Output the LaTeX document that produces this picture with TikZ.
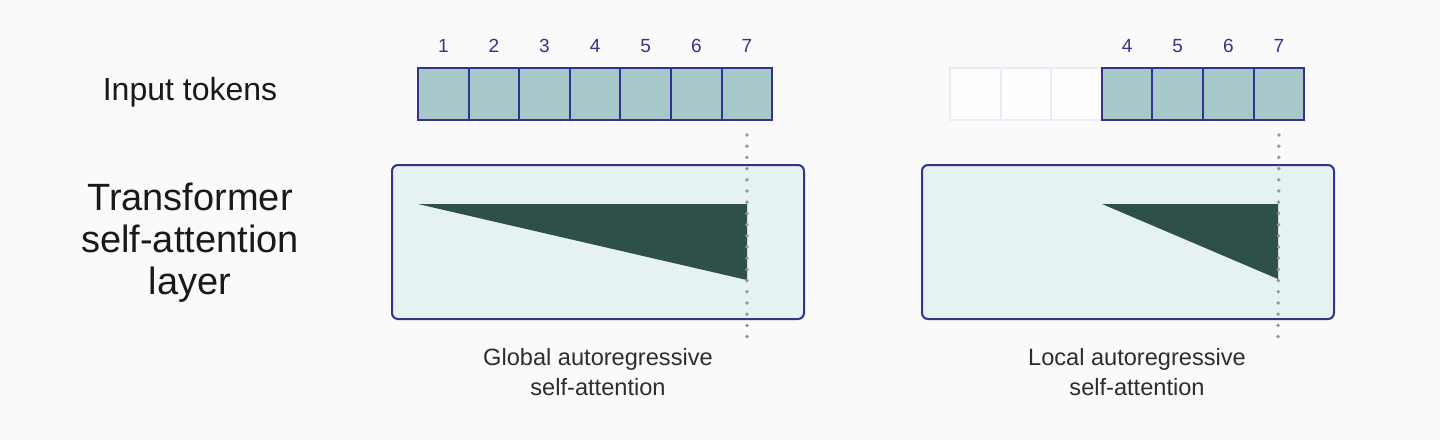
\documentclass[tikz,border=0pt]{standalone}
\usepackage{fontspec}
\setmainfont{Liberation Sans}
\usepackage{xcolor}
\usetikzlibrary{positioning}
\definecolor{bggray}{RGB}{250,250,250}
\definecolor{tokenfill}{RGB}{167,199,200}
\definecolor{navy}{RGB}{51,51,143}
\definecolor{fadeline}{RGB}{236,234,248}
\definecolor{layerfill}{RGB}{230,242,242}
\definecolor{attngreen}{RGB}{46,79,74}
\definecolor{dotgray}{RGB}{150,150,150}
\definecolor{textgray}{RGB}{45,45,45}
\tikzset{
    token/.style={draw=navy, line width=1pt, fill=tokenfill, minimum width=25.3pt,
        minimum height=26pt, inner sep=0pt, outer sep=0pt},
    ghost/.style={token, draw=fadeline, fill=white!60!bggray},
    tokid/.style={font=\fontsize{9.5}{10}\selectfont, text=navy},
    layer/.style={draw=navy, line width=1pt, fill=layerfill, rounded corners=3pt,
        minimum width=206pt, minimum height=77pt},
    guide/.style={dotgray, line width=1.9pt, line cap=round, dash pattern=on 0pt off 5.6pt},
    caption/.style={font=\fontsize{11.8}{15}\selectfont, text=textgray, align=center},
}

\begin{document}
\begin{tikzpicture}[x=0.5pt, y=-0.5pt]
    \fill[bggray] (0,0) rectangle (1440,440);
    \useasboundingbox (0,0) rectangle (1440,440);

    % --- Row labels ---
    \node[font=\fontsize{16}{19}\selectfont, text=black!90] (inlbl) at (190,92) {Input tokens};
    \node[font=\fontsize{19}{21}\selectfont, text=black!90, align=center] (layerlbl) at (190,243)
        {Transformer\\self-attention\\layer};

    % --- Left panel: Global ---
    \begin{scope}[shift={(0,0)}]
        \node[layer] (gl) at (598,242) {};
        \fill[attngreen] (418,204) -- (747,204) -- (747,280) -- cycle;
        \foreach \i in {1,...,7} {
            \node[token] (g\i) at ({418+(\i-0.5)*50.6},94) {};
            \node[tokid] (gn\i) at ({418+(\i-0.5)*50.6},46) {\i};
        }
        \coordinate (gend) at (747,339);
        \draw[guide] ([yshift=-7.5pt]g7.south) -- (gend);
        \node[caption] (gcap) at (598,372) {Global autoregressive\\self-attention};
    \end{scope}

    % --- Right panel: Local ---
    \begin{scope}[shift={(531,0)}]
        \node[layer] (ll) at (597,242) {};
        \foreach \i in {1,...,3} {
            \node[ghost] (l\i) at ({419+(\i-0.5)*50.6},94) {};
        }
        \foreach \i in {4,...,7} {
            \node[token] (l\i) at ({419+(\i-0.5)*50.6},94) {};
            \node[tokid] (ln\i) at ({419+(\i-0.5)*50.6},46) {\i};
        }
        \fill[attngreen] (571,204) -- (747,204) -- (747,279) -- cycle;
        \coordinate (lend) at (747,339);
        \draw[guide] ([yshift=-7.5pt]l7.south) -- (lend);
        \node[caption] (lcap) at (606,372) {Local autoregressive\\self-attention};
    \end{scope}
\end{tikzpicture}
\end{document}
